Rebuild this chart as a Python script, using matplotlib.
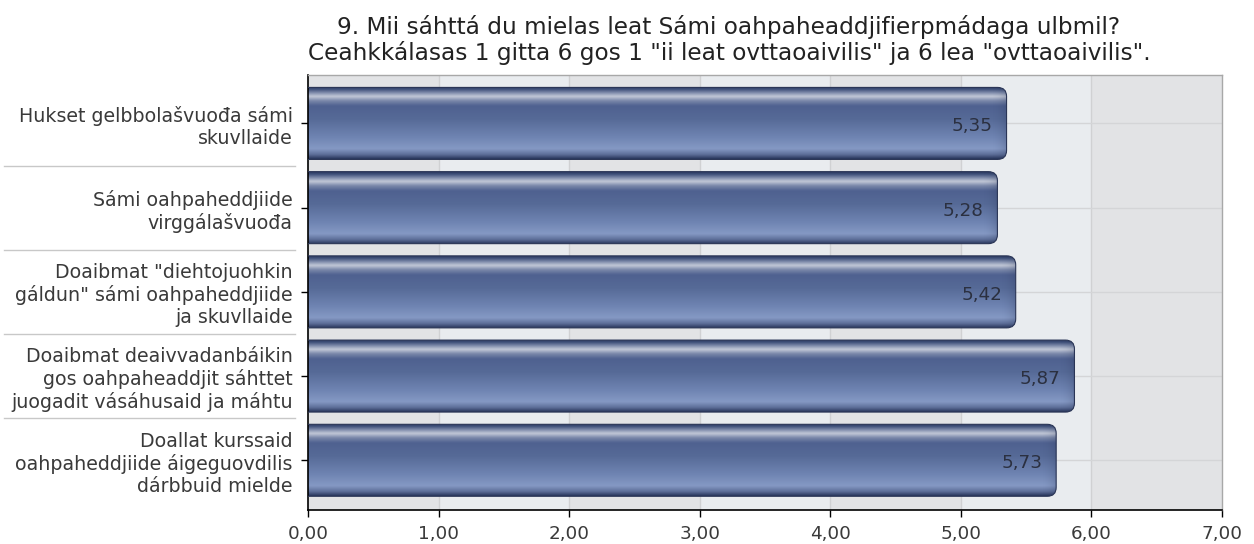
import numpy as np
import matplotlib
matplotlib.use("Agg")
import matplotlib.pyplot as plt
from matplotlib.colors import LinearSegmentedColormap
from matplotlib.patches import FancyBboxPatch
import matplotlib.transforms as mtransforms

plt.rcParams['font.family'] = ['DejaVu Sans']

title = ('9. Mii sáhttá du mielas leat Sámi oahpaheaddjifierpmádaga ulbmil?\n'
         'Ceahkkálasas 1 gitta 6 gos 1 "ii leat ovttaoaivilis" ja 6 lea "ovttaoaivilis".')
categories = [
    'Hukset gelbbolašvuođa sámi\nskuvllaide',
    'Sámi oahpaheddjiide\nvirggálašvuođa',
    'Doaibmat "diehtojuohkin\ngáldun" sámi oahpaheddjiide\nja skuvllaide',
    'Doaibmat deaivvadanbáikin\ngos oahpaheaddjit sáhttet\njuogadit vásáhusaid ja máhtu',
    'Doallat kurssaid\noahpaheddjiide áigeguovdilis\ndárbbuid mielde',
]
values = [5.35, 5.28, 5.42, 5.87, 5.73]
value_labels = ['5,35', '5,28', '5,42', '5,87', '5,73']
xticks = [0, 1, 2, 3, 4, 5, 6, 7]
xtick_labels = ['0,00', '1,00', '2,00', '3,00', '4,00', '5,00', '6,00', '7,00']

W, H = 1254, 544
fig = plt.figure(figsize=(W / 100, H / 100), dpi=100)
ax = fig.add_axes([308 / W, 1 - 510 / H, (1222 - 308) / W, (510 - 75) / H])

ax.set_xlim(0, 7)
ax.set_ylim(4.59, -0.575)

# alternating background bands
for i in range(7):
    ax.axvspan(i, i + 1, color='#e9ecef' if i % 2 else '#e2e3e5', zorder=0, lw=0)
for x in xticks[1:-1]:
    ax.axvline(x, color='#d0d1d3', lw=1, zorder=0.5)
y = np.arange(len(categories))
for yy in y:
    ax.axhline(yy, color='#d4d5d7', lw=1, zorder=0.5)

bars = ax.barh(y, values, height=0.855, color='none', edgecolor='none', zorder=2)

cmap = LinearSegmentedColormap.from_list('bar', [
    (0.00, '#27345a'), (0.04, '#3d4e78'), (0.09, '#7f8cab'), (0.14, '#c3c9d8'),
    (0.20, '#7a88aa'), (0.27, '#4f6190'), (0.45, '#566a97'), (0.70, '#6f84b2'),
    (0.86, '#8599c4'), (0.94, '#5d6e98'), (1.00, '#27345a')])
grad = np.linspace(0, 1, 256).reshape(-1, 1)

xscale = 914 / 7.0
yscale = 435 / 5.165
r_px = 9
for b, lab in zip(bars, value_labels):
    x0, y0, w, h = b.get_x(), b.get_y(), b.get_width(), b.get_height()
    rx = r_px / xscale
    ry = r_px / yscale
    patch = FancyBboxPatch((x0 - 0.3, y0), w + 0.3, h,
                           boxstyle=f'round,pad=0,rounding_size={rx}',
                           mutation_aspect=ry / rx,
                           transform=ax.transData, facecolor='none',
                           edgecolor='#2a3556', lw=0.8, zorder=3)
    ax.add_patch(patch)
    im = ax.imshow(grad, cmap=cmap, aspect='auto', origin='upper',
                   extent=(x0 - 0.3, x0 + w, y0 + h, y0), zorder=2.5,
                   interpolation='bicubic')
    im.set_clip_path(patch)
    # darker shading near the right end
    shade = np.zeros((1, 64, 4))
    shade[..., :3] = np.array([0.12, 0.16, 0.28])
    shade[..., 3] = np.linspace(0, 0.45, 64) ** 2
    im2 = ax.imshow(shade, aspect='auto', origin='upper',
                    extent=(x0 + w - 0.12, x0 + w, y0 + h, y0), zorder=2.6,
                    interpolation='bilinear')
    im2.set_clip_path(patch)
    ax.text(x0 + w - 0.105, b.get_y() + h / 2 + 0.035, lab, ha='right', va='center',
            fontsize=13.2, color='#2b3040', zorder=4)

ax.set_xticks(xticks)
ax.set_xticklabels(xtick_labels, fontsize=13.2, color='#3a3a3a')
ax.set_yticks(y)
ax.set_yticklabels(categories, fontsize=13.7, color='#3a3a3a', linespacing=1.2)
ax.tick_params(axis='x', direction='out', length=5, width=1, color='black', pad=6)
ax.tick_params(axis='y', direction='out', length=5, width=1, color='black', pad=6)

for s in ['left', 'bottom']:
    ax.spines[s].set_color('black')
    ax.spines[s].set_linewidth(1.2)
for s in ['top', 'right']:
    ax.spines[s].set_color('#a8a8a8')
    ax.spines[s].set_linewidth(1)

# separator lines between category labels
trans = mtransforms.blended_transform_factory(ax.transAxes, ax.transData)
for k in range(len(categories) - 1):
    ax.plot([-0.333, -0.014], [k + 0.5, k + 0.5], color='#c8c8c8', lw=1,
            transform=trans, clip_on=False, zorder=1)

fig.text(729 / W, 1 - 40 / H, title, ha='center', va='center', fontsize=16.7,
         color='#222222', linespacing=1.15)

fig.savefig('out.png', dpi=100, facecolor='white')
